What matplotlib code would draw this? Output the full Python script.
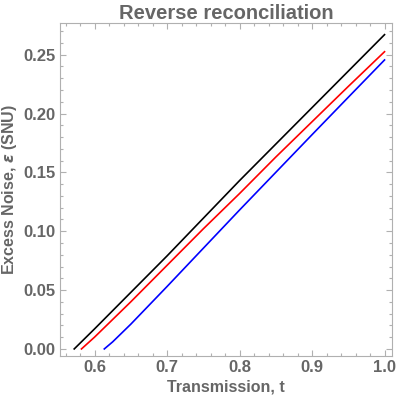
import matplotlib
matplotlib.use("Agg")
import matplotlib.pyplot as plt
from matplotlib.ticker import MultipleLocator, FormatStrFormatter

# Curves (transmission t vs excess noise)
t_black = [0.572, 0.60, 0.65, 0.70, 0.75, 0.80, 0.85, 0.90, 0.95, 1.00]
eps_black = [0.000, 0.017, 0.048, 0.079, 0.111, 0.143, 0.174, 0.205, 0.236, 0.267]

t_red = [0.582, 0.60, 0.65, 0.70, 0.75, 0.80, 0.85, 0.90, 0.95, 1.00]
eps_red = [0.000, 0.010, 0.040, 0.071, 0.102, 0.132, 0.163, 0.193, 0.223, 0.2525]

t_blue = [0.6135, 0.625, 0.65, 0.70, 0.75, 0.80, 0.85, 0.90, 0.95, 1.00]
eps_blue = [0.000, 0.006, 0.021, 0.053, 0.0855, 0.118, 0.150, 0.182, 0.2138, 0.2455]

x_ticks = [0.6, 0.7, 0.8, 0.9, 1.0]
y_ticks = [0.00, 0.05, 0.10, 0.15, 0.20, 0.25]

text_gray = "#666666"
frame_gray = "#b0b0b0"

plt.rcParams['font.family'] = ['Liberation Sans', 'DejaVu Sans']
plt.rcParams['font.weight'] = 'bold'
plt.rcParams['mathtext.fontset'] = 'dejavusans'

fig = plt.figure(figsize=(3.99, 4.03), dpi=100)
ax = fig.add_axes([60 / 399, 1 - 356 / 403, 332 / 399, 333 / 403])

ax.plot(t_black, eps_black, color="black", lw=1.2)
ax.plot(t_red, eps_red, color="#ff0000", lw=1.2)
ax.plot(t_blue, eps_blue, color="#0000ff", lw=1.2)

ax.set_xlim(0.5524, 1.0103)
ax.set_ylim(-0.006, 0.2769)

ax.set_xticks(x_ticks)
ax.set_yticks(y_ticks)
ax.xaxis.set_minor_locator(MultipleLocator(0.02))
ax.yaxis.set_minor_locator(MultipleLocator(0.01))
ax.xaxis.set_major_formatter(FormatStrFormatter('%.1f'))
ax.yaxis.set_major_formatter(FormatStrFormatter('%.2f'))

for s in ax.spines.values():
    s.set_color(frame_gray)
    s.set_linewidth(0.8)

ax.tick_params(which='both', direction='in', top=True, right=True,
               color=frame_gray, width=0.8)
ax.tick_params(which='major', length=4, labelsize=12, labelcolor=text_gray, pad=3)
ax.tick_params(which='minor', length=2)
for lab in ax.get_xticklabels() + ax.get_yticklabels():
    lab.set_fontweight('bold')

ax.set_xlabel("Transmission, t", fontsize=11.5, fontweight='bold', color=text_gray, labelpad=3)
ax.set_ylabel(r"Excess Noise, $\epsilon$ (SNU)", fontsize=11.5, fontweight='bold',
              color=text_gray, labelpad=3)
ax.set_title("Reverse reconciliation", fontsize=14.5, fontweight='bold',
             color=text_gray, pad=2)

fig.savefig("out.png", dpi=100)
